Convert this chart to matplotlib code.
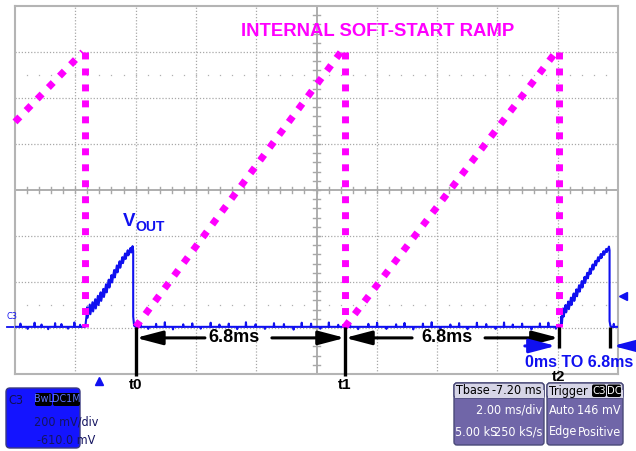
import matplotlib
matplotlib.use('Agg')
import matplotlib.pyplot as plt
from matplotlib import font_manager
from matplotlib.patches import FancyBboxPatch, FancyArrowPatch, Rectangle

# scope settings (2.00 ms/div, 200 mV/div, offset -610 mV, trigger at t=0)
ms_div = 2.0
mv_div = 200.0
t_left, t_right = -2.8, 17.2
v_bottom, v_top = -190.0, 1410.0

# VOUT trace, C3 (ms, mV)
baseline_mv = 15
baseline_spans = [(-2.8, -0.48), (1.20, 15.28), (16.97, 17.2)]
spike_t = [-2.62, -2.38, -2.15, -1.92, -1.70, -1.47, -1.26, -1.04, -0.83, -0.64,
           1.36, 1.62, 1.88, 2.17, 2.44, 2.78, 3.08, 3.36, 3.69, 3.98,
           4.29, 4.57, 4.86, 5.18, 5.49, 5.79, 6.12, 6.44, 6.71, 7.02,
           7.33, 7.61, 7.92, 8.31, 8.58, 8.92, 9.21, 9.52, 9.84, 10.12,
           10.41, 10.73, 11.02, 11.31, 11.64, 11.93, 12.21, 12.52, 12.83, 13.14,
           13.42, 13.71, 14.02, 14.33, 14.61, 14.89, 15.14, 17.06]
spike_mv = [14, -9, 18, 10, -10, 16, 12, -8, 19, 9,
            17, -9, 13, 20, -11, 11, 15, -8, 18, 10,
            14, -10, 20, 11, -9, 16, 12, -12, 18, 14,
            -8, 19, 9, 15, -10, 13, 18, -9, 11, 17,
            -11, 14, 20, -8, 10, 16, -10, 18, 12, -9,
            19, 10, 14, -11, 15, 18, -8, 13]
ramp1_t = [-0.46, -0.43, -0.41, -0.39, -0.32, -0.30, -0.23, -0.21, -0.14, -0.12,
           -0.05, -0.03, 0.04, 0.06, 0.13, 0.15, 0.22, 0.24, 0.31, 0.33,
           0.40, 0.42, 0.49, 0.51, 0.58, 0.60, 0.67, 0.69, 0.76, 0.78,
           0.85, 0.87, 0.94, 0.96, 1.03, 1.05, 1.10, 1.12, 1.12, 1.15]
ramp1_mv = [25, 60, 100, 55, 112, 70, 122, 82, 135, 95,
            150, 110, 165, 128, 180, 145, 200, 165, 220, 186,
            240, 208, 262, 230, 282, 252, 300, 272, 318, 292,
            334, 310, 348, 326, 358, 338, 366, 345, 60, 20]
ramp2_t = [15.30, 15.32, 15.34, 15.38, 15.40, 15.46, 15.48, 15.55, 15.57, 15.64,
           15.66, 15.73, 15.75, 15.82, 15.84, 15.91, 15.93, 16.00, 16.02, 16.09,
           16.11, 16.18, 16.20, 16.27, 16.29, 16.36, 16.38, 16.45, 16.47, 16.54,
           16.56, 16.63, 16.65, 16.72, 16.74, 16.81, 16.83, 16.90, 16.92, 16.92, 16.95]
ramp2_mv = [20, 60, 30, 95, 60, 110, 78, 125, 92, 142,
            110, 160, 128, 178, 148, 196, 168, 214, 186, 232,
            206, 250, 226, 268, 245, 286, 264, 302, 282, 318,
            300, 332, 314, 344, 328, 354, 340, 364, 348, 40, 18]

# hand-drawn internal soft-start ramp
ramp_seg_t = [(-2.8, -0.55), (-0.48, -0.48), (1.21, 8.01), (8.145, 8.145),
              (8.145, 15.14), (15.24, 15.24)]
ramp_seg_mv = [(906, 1210), (1210, 15), (15, 1210), (1210, 15), (15, 1210), (1210, 15)]

# time markers
marker_t = [1.21, 8.145, 15.24]
marker_names = ['t0', 't1', 't2']
restart_t = 16.93
interval_label = '6.8ms'

BLUE = '#1010f0'
PINK = '#ff00ff'
GRID = '#a8a8a8'
BOLD = dict(family=['Liberation Sans', 'DejaVu Sans'], fontweight='bold')

# scope panel text is a condensed face; use one if the system has it
narrow = [f.name for f in font_manager.fontManager.ttflist
          if ('Narrow' in f.name or 'Condensed' in f.name or
              str(f.stretch) in ('condensed', 'semi-condensed'))
          and 'Mono' not in f.name and 'Serif' not in f.name]
if narrow:
    PANEL = dict(family=[narrow[0], 'Liberation Sans'], fontstretch='condensed')
    PSIZE = 9
else:
    PANEL = dict(family=['Liberation Sans', 'DejaVu Sans'])
    PSIZE = 7.3


def baseline_piece(a, b):
    xs, ys = [a], [baseline_mv]
    for t, h in zip(spike_t, spike_mv):
        if a < t < b:
            xs += [t - 0.012, t, t + 0.012]
            ys += [baseline_mv, baseline_mv + h, baseline_mv]
    xs.append(b)
    ys.append(baseline_mv)
    return xs, ys


def arrow(ax, tail, tip, color):
    ax.add_patch(FancyArrowPatch(tail, tip, arrowstyle='-|>,head_length=1.6,head_width=0.42',
                                 mutation_scale=10, lw=2.2, color=color, shrinkA=0, shrinkB=0,
                                 clip_on=False, zorder=7))


fig = plt.figure(figsize=(6.36, 4.51), dpi=100)
ax = fig.add_axes([15 / 636, 77 / 451, 603 / 636, 368 / 451])
ax.set_xlim(t_left, t_right)
ax.set_ylim(v_bottom, v_top)
ax.set_xticks([])
ax.set_yticks([])
for s in ax.spines.values():
    s.set_color('#b4b4b4')
    s.set_linewidth(1.5)

# graticule
t_mid = t_left + 5 * ms_div
v_mid = v_bottom + 4 * mv_div
for k in range(1, 10):
    if k != 5:
        ax.axvline(t_left + k * ms_div, color=GRID, lw=0.9, ls=(0, (1, 1.5)), zorder=0)
for k in range(1, 8):
    if k != 4:
        ax.axhline(v_bottom + k * mv_div, color=GRID, lw=0.9, ls=(0, (1, 1.5)), zorder=0)
ax.axvline(t_mid, color=GRID, lw=1.3, zorder=0)
ax.axhline(v_mid, color=GRID, lw=1.3, zorder=0)
minor_t = [t_left + i * ms_div / 5 for i in range(1, 50)]
minor_v = [v_bottom + j * mv_div / 5 for j in range(1, 40)]
for t in minor_t:
    ax.plot([t, t], [v_mid - 15, v_mid + 15], color=GRID, lw=1, zorder=0)
for v in minor_v:
    ax.plot([t_mid - 0.11, t_mid + 0.11], [v, v], color=GRID, lw=1, zorder=0)
for v in (v_bottom + 6.5 * mv_div, v_bottom + 1.5 * mv_div):
    ax.plot(minor_t, [v] * len(minor_t), ls='none', marker='s', ms=0.9, mew=0,
            color='#b0b0b0', zorder=0)

# VOUT trace
xs, ys = baseline_piece(*baseline_spans[0])
xs += ramp1_t
ys += ramp1_mv
bx, by = baseline_piece(*baseline_spans[1])
xs += bx + ramp2_t
ys += by + ramp2_mv
bx, by = baseline_piece(*baseline_spans[2])
xs += bx
ys += by
ax.plot(xs, ys, color=BLUE, lw=1.5, zorder=3)
ax.plot([t_left - 0.27, t_left], [baseline_mv, baseline_mv], color=BLUE, lw=1.3, clip_on=False)
ax.text(t_left - 0.28, baseline_mv + 25, 'C3', color=BLUE, fontsize=6.5, ha='left',
        va='bottom', **PANEL)

# soft-start ramp sketch
for st, sv in zip(ramp_seg_t, ramp_seg_mv):
    ax.plot(st, sv, color=PINK, lw=5, ls=(0, (1, 1.3)), dash_capstyle='butt', zorder=4,
            clip_on=False)
ax.text(9.24, 1301, 'INTERNAL SOFT-START RAMP', color=PINK, fontsize=13.3, ha='center',
        va='center', **BOLD)
ax.text(0.78, 475, 'V', color=BLUE, fontsize=13.5, ha='left', va='center', **BOLD)
ax.text(1.18, 449, 'OUT', color=BLUE, fontsize=10, ha='left', va='center', **BOLD)

# t0 / t1 / t2 markers
for t, name in zip(marker_t, marker_names):
    low = -77 if name == 't2' else -200
    ax.plot([t, t], [baseline_mv, low], color='black', lw=2.4, zorder=6, clip_on=False,
            solid_capstyle='butt')
    ax.text(t, -203 if name == 't2' else -238, name, fontsize=11, ha='center', va='center',
            clip_on=False, **BOLD)
ax.plot([restart_t, restart_t], [baseline_mv, -77], color='black', lw=2.4, zorder=6,
        solid_capstyle='butt')

arrow_mv = -33
arrow(ax, (3.50, arrow_mv), (marker_t[0], arrow_mv), 'black')
arrow(ax, (5.72, arrow_mv), (marker_t[1], arrow_mv), 'black')
arrow(ax, (10.37, arrow_mv), (marker_t[1], arrow_mv), 'black')
arrow(ax, (12.79, arrow_mv), (marker_t[2], arrow_mv), 'black')
ax.text(4.46, arrow_mv, interval_label, fontsize=13, ha='center', va='center', **BOLD)
ax.text(11.53, arrow_mv, interval_label, fontsize=13, ha='center', va='center', **BOLD)

arrow(ax, (14.11, -68), (15.14, -68), BLUE)
arrow(ax, (17.75, -68), (17.03, -68), BLUE)
ax.text(15.91, -142, '0ms TO ' + interval_label, color=BLUE, fontsize=11.5, ha='center',
        va='center', clip_on=False, **BOLD)

# trigger level / position markers
ax.plot([17.35], [149], marker='<', ms=6, color=BLUE, clip_on=False, zorder=6)
ax.plot([0.0], [-222], marker='^', ms=6, color=BLUE, clip_on=False, zorder=6)

# info panels, drawn in pixel coordinates
ov = fig.add_axes([0, 0, 1, 1], zorder=10)
ov.set_xlim(0, 636)
ov.set_ylim(451, 0)
ov.axis('off')
txt = dict(fontsize=PSIZE, va='center', **PANEL)

ch = FancyBboxPatch((6, 388), 74, 60, boxstyle='round,pad=0,rounding_size=4',
                    fc='#1414ff', ec='#3a3a80', lw=1)
ov.add_patch(ch)
ov.text(8, 401, 'C3', color='#101050', **txt)
for x0, w, lab in ((35, 17, 'BwL'), (53, 27, 'DC1M')):
    ov.add_patch(FancyBboxPatch((x0, 393), w, 13, boxstyle='round,pad=0,rounding_size=2',
                                fc='black', ec='none'))
    ov.text(x0 + w / 2, 399.5, lab, color='#5a70ff', ha='center',
            **dict(txt, fontsize=PSIZE * 0.85))
for y, lab, x0 in ((422, '200 mV/div', 34), (440, '-610.0 mV', 37)):
    tx = ov.text(x0, y, lab, color='#141460', **txt)
    tx.set_clip_path(ch)

HEAD = '#d6d5e6'
BODY = '#7066a8'
for x0, w in ((454, 90), (547, 76)):
    ov.add_patch(FancyBboxPatch((x0, 383), w, 62, boxstyle='round,pad=0,rounding_size=3',
                                fc=BODY, ec='#4a4a78', lw=1))
    ov.add_patch(FancyBboxPatch((x0, 383), w, 15, boxstyle='round,pad=0,rounding_size=3',
                                fc=HEAD, ec='#4a4a78', lw=1))
    ov.add_patch(Rectangle((x0 + 0.5, 390), w - 1, 8, fc=HEAD, ec='none'))

ov.text(456, 391, 'Tbase', color='black', ha='left', **txt)
ov.text(542, 391, '-7.20 ms', color='black', ha='right', **txt)
ov.text(542, 410, '2.00 ms/div', color='white', ha='right', **txt)
ov.text(455, 432, '5.00 kS', color='white', ha='left', **txt)
ov.text(542, 432, '250 kS/s', color='white', ha='right', **txt)

ov.text(549, 391, 'Trigger', color='black', ha='left', **txt)
for x0, lab in ((592, 'C3'), (607, 'DC')):
    ov.add_patch(FancyBboxPatch((x0, 384.5), 14, 12.5, boxstyle='round,pad=0,rounding_size=2',
                                fc='black', ec='none'))
    ov.text(x0 + 7, 391, lab, color='white', ha='center', **dict(txt, fontsize=PSIZE * 0.9))
ov.text(549, 410, 'Auto', color='white', ha='left', **txt)
ov.text(621, 410, '146 mV', color='white', ha='right', **txt)
ov.text(549, 432, 'Edge', color='white', ha='left', **txt)
ov.text(621, 432, 'Positive', color='white', ha='right', **txt)

fig.savefig('out.png', dpi=100)
